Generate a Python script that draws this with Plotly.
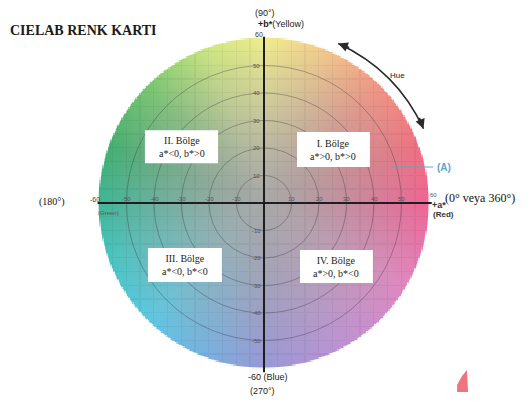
import numpy as np
import plotly.graph_objects as go

# ---- data ----
title_text = "CIELAB RENK KARTI"
axis_max = 60
tick_values = [-50, -40, -30, -20, -10, 10, 20, 30, 40, 50]
ring_values = [10, 20, 30, 40, 50]
quadrant_names = ["I. Bölge", "II. Bölge", "III. Bölge", "IV. Bölge"]
quadrant_rules = ["a*>0, b*>0", "a*<0, b*>0", "a*<0, b*<0", "a*>0, b*<0"]
hue_angles = [0, 20, 45, 70, 90, 110, 135, 160, 180, 200, 225, 250, 270, 300, 330, 360]
hue_colors = [(240, 100, 148), (240, 112, 128), (242, 148, 132), (242, 205, 140),
              (240, 238, 140), (205, 230, 130), (120, 198, 112), (68, 175, 112),
              (62, 182, 150), (72, 196, 192), (92, 200, 226), (120, 176, 226),
              (152, 152, 216), (192, 146, 212), (226, 134, 192), (240, 100, 148)]

# ---- background colour wheel (image) ----
step = 0.5
coords = np.arange(-axis_max, axis_max + step / 2, step)
X, Y = np.meshgrid(coords, coords)
R = np.sqrt(X ** 2 + Y ** 2)
ANG = (np.degrees(np.arctan2(Y, X)) + 360) % 360
hc = np.array(hue_colors, dtype=float)
cr = np.interp(ANG, hue_angles, hc[:, 0])
cg = np.interp(ANG, hue_angles, hc[:, 1])
cb = np.interp(ANG, hue_angles, hc[:, 2])
s = np.clip(R / axis_max, 0, 1) ** 1.3
gray = 168.0
rr = gray * (1 - s) + cr * s
gg = gray * (1 - s) + cg * s
bb = gray * (1 - s) + cb * s
grid = ((np.abs(X) % 5) < 0.01) | ((np.abs(Y) % 5) < 0.01)
shade = np.where(grid, 0.955, 1.0)
rr, gg, bb = rr * shade, gg * shade, bb * shade
alpha = np.clip((axis_max - R) / step + 0.5, 0, 1)
img = np.stack([rr, gg, bb, alpha], axis=-1)
img = np.round(img, 3).tolist()

fig = go.Figure()
fig.add_trace(go.Image(z=img, colormodel="rgba", x0=-axis_max, dx=step,
                       y0=-axis_max, dy=step, hoverinfo="skip"))

shapes = []
for r in ring_values:
    shapes.append(dict(type="circle", xref="x", yref="y", x0=-r, x1=r, y0=-r, y1=r,
                       line=dict(color="rgba(50,50,60,0.35)", width=1)))
# axes cross
shapes.append(dict(type="line", xref="x", yref="y", x0=0, x1=0, y0=-61.5, y1=60.5,
                   line=dict(color="#1e1e1e", width=2)))
shapes.append(dict(type="line", xref="x", yref="y", x0=-60.5, x1=61, y0=0, y1=0,
                   line=dict(color="#1e1e1e", width=2)))
# quadrant boxes
boxes = [(12.0, 38.5, 13.1, 25.8), (-43.3, -16.7, 14.5, 26.5),
         (-42.2, -15.3, -28.7, -16.4), (13.1, 39.6, -29.1, -17.1)]
for (x0, x1, y0, y1) in boxes:
    shapes.append(dict(type="rect", xref="x", yref="y", x0=x0, x1=x1, y0=y0, y1=y1,
                       fillcolor="white", line=dict(width=0)))
# hue arc
shapes.append(dict(type="path", xref="x", yref="y",
                   path="M 58.0 27.0 Q 48.2 48.2 27.0 58.0",
                   line=dict(color="#2a2a2a", width=1.6)))
# (A) pointer line
shapes.append(dict(type="line", xref="x", yref="y", x0=46.5, x1=61.5, y0=13.1, y1=13.1,
                   line=dict(color="#5aa6cc", width=1.2)))
# red blob (scan mark)
shapes.append(dict(type="path", xref="x", yref="y",
                   path="M 70.2 -68.7 L 74.2 -68.7 L 73.8 -60.7 L 72.0 -62.9 L 70.2 -66.2 Z",
                   fillcolor="#ec7580", line=dict(width=0)))

ann = []
sans = "Liberation Sans, Arial, sans-serif"
serif = "Liberation Serif, Times New Roman, serif"


def add(text, x, y, size=8, color="#222", font=sans, xanchor="center", yanchor="middle"):
    ann.append(dict(text=text, x=x, y=y, xref="x", yref="y", showarrow=False,
                    font=dict(size=size, color=color, family=font),
                    xanchor=xanchor, yanchor=yanchor))


add("<b>" + title_text + "</b>", -93.0, 62.9, size=14, color="#1a1a1a", font=serif, xanchor="left")
add("(90°)", 0.4, 69.0, size=9)
add("<b>+b*</b>(Yellow)", 6.2, 65.0, size=9)
add("60", -2.0, 61.2, size=7, color="#333")
for v in tick_values:
    add(str(v), -2.6, v, size=6, color="#555")
    add(str(v), v, 1.6, size=6, color="#555")
add("-60", -61.5, 1.4, size=7, color="#444")
add("(Green)", -56.5, -3.6, size=6, color="#555")
add("60", 61.8, 3.0, size=6, color="#555")
add("<b>+a*</b>", 60.4, -0.9, size=9, color="#333", xanchor="left")
add("(0° veya 360°)", 65.2, 1.8, size=12, color="#111", font=serif, xanchor="left")
add("<b>(Red)</b>", 60.6, -4.3, size=8, color="#333", xanchor="left")
add("(180°)", -77.1, 0.4, size=10, color="#111", font=serif)
add("-60 (Blue)", 1.5, -63.4, size=9, color="#222")
add("(270°)", -0.6, -68.4, size=9, color="#222")
add("Hue", 48.4, 46.5, size=8, color="#222")
add("<b>(A)</b>", 62.0, 13.0, size=10, color="#5aa6cc", xanchor="left")

centers = [(25.2, 19.4), (-30.0, 20.5), (-28.7, -22.5), (26.3, -23.1)]
for (cx, cy), name, rule in zip(centers, quadrant_names, quadrant_rules):
    add(name + "<br>" + rule, cx, cy, size=10, color="#222", font=serif)

# arrowheads on hue arc
ann.append(dict(x=27.0, y=58.0, ax=31.5, ay=56.3, xref="x", yref="y", axref="x", ayref="y",
                showarrow=True, arrowhead=2, arrowsize=1.2, arrowwidth=1.6,
                arrowcolor="#2a2a2a", text=""))
ann.append(dict(x=58.0, y=27.0, ax=56.3, ay=31.5, xref="x", yref="y", axref="x", ayref="y",
                showarrow=True, arrowhead=2, arrowsize=1.2, arrowwidth=1.6,
                arrowcolor="#2a2a2a", text=""))

# page body has an 8px margin, so the figure is sized to fit the window
fig.update_layout(
    width=523, height=394,
    margin=dict(l=0, r=0, t=0, b=0),
    paper_bgcolor="white", plot_bgcolor="white",
    xaxis=dict(range=[-93.09, 97.09], visible=False, autorange=False, fixedrange=True),
    yaxis=dict(range=[-72.36, 70.91], visible=False, autorange=False, fixedrange=True),
    shapes=shapes, annotations=ann, showlegend=False,
)

fig.write_html("out.html")
